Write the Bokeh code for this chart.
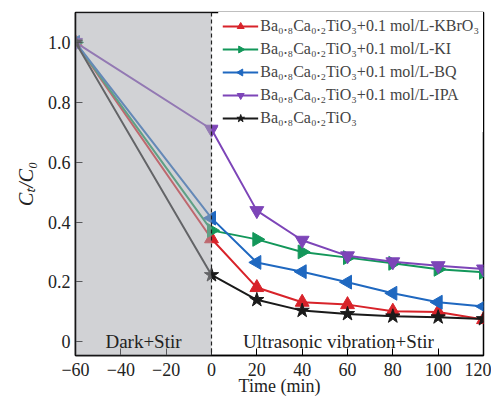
import math
from bokeh.plotting import figure
from bokeh.models import BoxAnnotation, Span, Legend, LegendItem, FixedTicker, Label, PrintfTickFormatter
from bokeh.embed import file_html
from bokeh.resources import INLINE

time = [-60, 0, 20, 40, 60, 80, 100, 120]
kbro3 = [1.0, 0.344, 0.181, 0.132, 0.124, 0.102, 0.099, 0.074]
ki = [1.0, 0.372, 0.342, 0.300, 0.281, 0.262, 0.242, 0.232]
bq = [1.0, 0.413, 0.265, 0.234, 0.199, 0.162, 0.132, 0.118]
ipa = [1.0, 0.710, 0.438, 0.339, 0.287, 0.267, 0.254, 0.243]
pure = [1.0, 0.223, 0.140, 0.104, 0.093, 0.085, 0.082, 0.076]

labels = [
    "Ba₀.₈Ca₀.₂TiO₃+0.1 mol/L-KBrO₃",
    "Ba₀.₈Ca₀.₂TiO₃+0.1 mol/L-KI",
    "Ba₀.₈Ca₀.₂TiO₃+0.1 mol/L-BQ",
    "Ba₀.₈Ca₀.₂TiO₃+0.1 mol/L-IPA",
    "Ba₀.₈Ca₀.₂TiO₃",
]
series = [kbro3, ki, bq, ipa, pure]
colors = ["#d8232a", "#13975a", "#1f68c0", "#7d45b8", "#1a1a1a"]
# marker kind: triangle (ngon) with rotation, or star
kinds = [("ngon", 0.0), ("ngon", -math.pi / 2), ("ngon", math.pi / 2), ("ngon", math.pi), ("star", 0.0)]

FONT = "Liberation Serif"

p = figure(width=491, height=399, x_range=(-60, 120), y_range=(-0.046, 1.1),
           output_backend="svg", toolbar_location=None,
           min_border_left=75, min_border_right=8, min_border_top=12, min_border_bottom=44)
p.grid.visible = False
p.outline_line_color = "black"
p.outline_line_width = 1.5

items = []
for ys, c, (k, a), lab in zip(series, colors, kinds, labels):
    r1 = p.line(time, ys, line_color=c, line_width=2)
    if k == "ngon":
        r2 = p.ngon(x=time, y=ys, radius=8, radius_units="screen", n=3, angle=a,
                    fill_color=c, line_color=c)
    else:
        r2 = p.scatter(x=time, y=ys, marker="star", size=15, fill_color=c, line_color=c)
    items.append(LegendItem(label=lab, renderers=[r1, r2]))

p.add_layout(BoxAnnotation(left=-60, right=0, fill_color="#a6a8ae", fill_alpha=0.52,
                           line_alpha=0, level="overlay"))
p.add_layout(Span(location=0, dimension="height", line_color="#222222",
                  line_dash="4 3", line_width=1.2, level="overlay"))

p.add_layout(Label(x=-30, y=0.0, text="Dark+Stir", text_align="center",
                   text_baseline="middle", text_font=FONT, text_font_size="19px",
                   text_color="#222222", level="overlay"))
p.add_layout(Label(x=56, y=0.0, text="Ultrasonic vibration+Stir", text_align="center",
                   text_baseline="middle", text_font=FONT, text_font_size="19px",
                   text_color="#222222", level="overlay"))

legend = Legend(items=items, location="top_right", border_line_alpha=0,
                background_fill_color="white", background_fill_alpha=1,
                label_text_font=FONT, label_text_font_size="16px",
                glyph_width=36, glyph_height=20, spacing=3, padding=4, margin=0,
                label_standoff=2)
p.add_layout(legend)

p.xaxis.ticker = FixedTicker(ticks=[-60, -40, -20, 0, 20, 40, 60, 80, 100, 120])
p.yaxis.ticker = FixedTicker(ticks=[0, 0.2, 0.4, 0.6, 0.8, 1.0])
p.yaxis.formatter = PrintfTickFormatter(format="%.1f")
p.xaxis.major_label_overrides = {-60: "−60", -40: "−40", -20: "−20"}
p.yaxis.major_label_overrides = {0: "0"}
for ax in (p.xaxis[0], p.yaxis[0]):
    ax.major_tick_in = 7
    ax.major_tick_out = 0
    ax.minor_tick_line_alpha = 0
    ax.axis_line_width = 1.5
    ax.major_label_text_font = FONT
    ax.major_label_text_font_size = "18px"
    ax.major_label_text_color = "#222222"
    ax.axis_label_text_font = FONT
    ax.axis_label_text_color = "#222222"
p.xaxis.axis_label = "Time (min)"
p.xaxis.axis_label_text_font_size = "18px"
p.xaxis.axis_label_text_font_style = "normal"
p.xaxis.axis_label_standoff = -3
p.xaxis.major_label_standoff = 7
p.yaxis.axis_label = "Cₜ/C₀"
p.yaxis.axis_label_text_font_size = "20px"
p.yaxis.axis_label_text_font_style = "italic"
p.yaxis.axis_label_standoff = 8

open("out.html", "w").write(file_html(p, INLINE))
